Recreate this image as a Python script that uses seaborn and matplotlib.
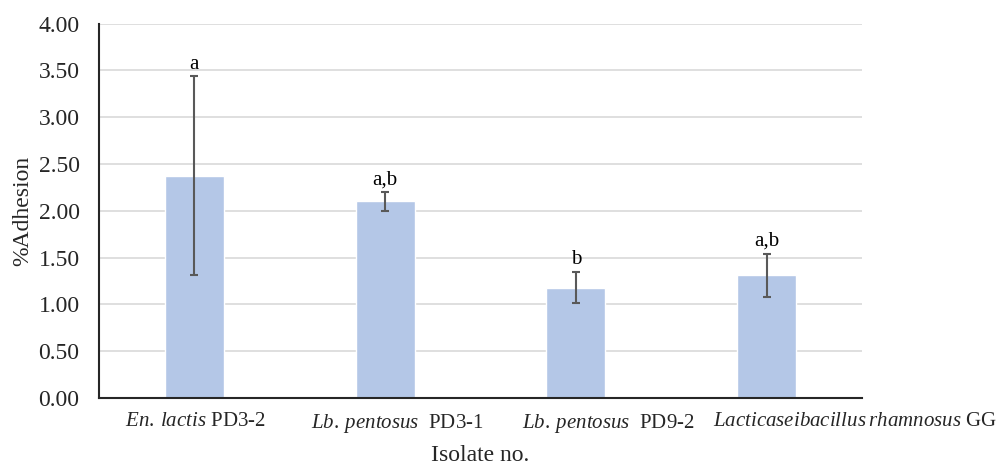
import matplotlib
matplotlib.use("Agg")
import matplotlib.pyplot as plt
import matplotlib.transforms as mtransforms
import seaborn as sns
import pandas as pd

categories = [r"$\mathit{En.\:lactis}$ PD3-2",
              r"$\mathit{Lb.\:pentosus}$  PD3-1",
              r"$\mathit{Lb.\:pentosus}$  PD9-2",
              r"$\mathit{Lacticaseibacillus\:rhamnosus}$ GG"]
means = [2.375, 2.10, 1.18, 1.31]
errors = [1.06, 0.10, 0.17, 0.23]
letters = ["a", "a,b", "b", "a,b"]
yticks = [0.0, 0.5, 1.0, 1.5, 2.0, 2.5, 3.0, 3.5, 4.0]

sns.set_theme(style="white")
plt.rcParams['font.family'] = ['Liberation Serif', 'DejaVu Serif']
plt.rcParams['mathtext.fontset'] = 'custom'
plt.rcParams['mathtext.rm'] = 'Liberation Serif'
plt.rcParams['mathtext.it'] = 'Liberation Serif:italic'

df = pd.DataFrame({"isolate": categories, "adhesion": means})

fig = plt.figure(figsize=(9.98, 4.66), dpi=100)
ax = fig.add_axes([0.0992, 0.146, 0.7645, 0.8035])

sns.barplot(data=df, x="isolate", y="adhesion", color="#b4c7e7",
            saturation=1, width=0.31, errorbar=None, ax=ax, zorder=2)
xs = list(range(len(categories)))
ax.errorbar(xs, means, yerr=errors, fmt="none", ecolor="#595959",
            elinewidth=1.5, capsize=3.2, capthick=1.5, zorder=3)
for x, m, e, t in zip(xs, means, errors, letters):
    ax.annotate(t, (x, m + e), xytext=(0, 2), textcoords="offset points",
                ha="center", va="bottom", fontsize=15, color="black")

ax.set_xlim(-0.5, len(categories) - 0.5)
ax.set_ylim(0, 4.0)
ax.set_yticks(yticks)
ax.set_yticklabels([f"{v:.2f}" for v in yticks], fontsize=17)
ax.tick_params(axis="x", labelsize=15, length=0, pad=10)
ax.tick_params(axis="y", length=0, pad=14)
ax.yaxis.grid(True, color="#d9d9d9", linewidth=1.2, zorder=0)
ax.set_axisbelow(True)
for s in ["top", "right"]:
    ax.spines[s].set_visible(False)
for s in ["left", "bottom"]:
    ax.spines[s].set_color("#262626")
    ax.spines[s].set_linewidth(1.5)
ax.set_xlabel("Isolate no.", fontsize=17, labelpad=7)
ax.set_ylabel("%Adhesion", fontsize=17, labelpad=4)

# shift tick labels sideways like the reference layout (pixels)
label_shift_px = [1, 12, 32, 88]
for lab, dx in zip(ax.get_xticklabels(), label_shift_px):
    lab.set_transform(lab.get_transform() +
                      mtransforms.ScaledTranslation(dx / 100, 0, fig.dpi_scale_trans))

fig.savefig("out.png", dpi=100)
